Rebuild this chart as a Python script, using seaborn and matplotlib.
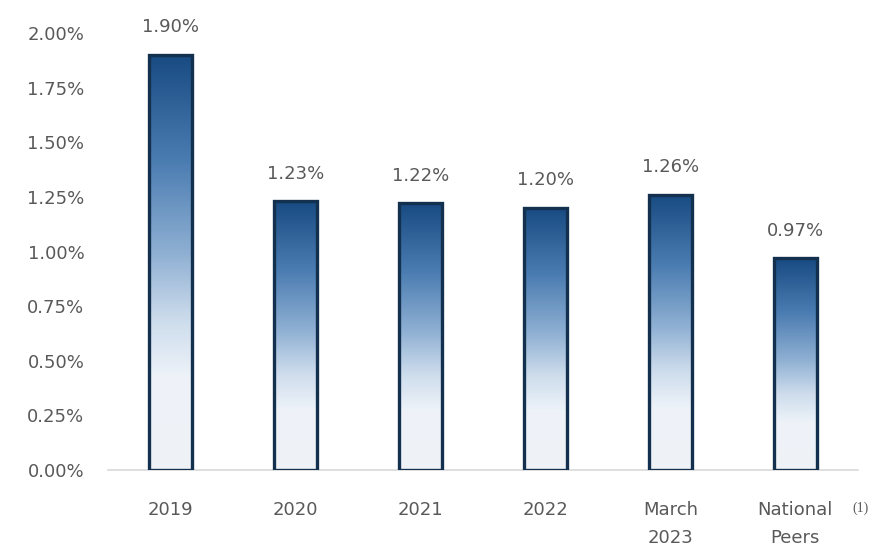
import numpy as np
import pandas as pd
import matplotlib.pyplot as plt
from matplotlib.colors import LinearSegmentedColormap
import seaborn as sns

# data
categories = ['2019', '2020', '2021', '2022', 'March\n2023', 'National\nPeers']
values = [1.90, 1.23, 1.22, 1.20, 1.26, 0.97]
value_labels = ['1.90%', '1.23%', '1.22%', '1.20%', '1.26%', '0.97%']
ytick_vals = [0.0, 0.25, 0.5, 0.75, 1.0, 1.25, 1.5, 1.75, 2.0]

df = pd.DataFrame({'category': categories, 'value': values})

sns.set_style('white')
plt.rcParams['font.family'] = ['DejaVu Sans']
text_col = '#595959'
fsize = 13

fig = plt.figure(figsize=(8.73, 5.51), dpi=100)
ax = fig.add_axes([0.1237, 0.147, 0.859, 0.793])

sns.barplot(data=df, x='category', y='value', width=0.34,
            color='white', edgecolor='#13304f', linewidth=2.4, ax=ax)

# gradient fill: blue at top fading to near white at bottom
cmap = LinearSegmentedColormap.from_list('grad', [
    (0.0, '#eef2f7'), (0.22, '#eef3f9'), (0.36, '#cddcec'),
    (0.52, '#8fb0d3'), (0.74, '#4c7db2'), (1.0, '#184b82')])
grad = np.linspace(0, 1, 256).reshape(-1, 1)
for p in ax.patches:
    x0, y0 = p.get_x(), p.get_y()
    w, h = p.get_width(), p.get_height()
    im = ax.imshow(grad, cmap=cmap, origin='lower', aspect='auto',
                   extent=[x0, x0 + w, y0, y0 + h], zorder=p.get_zorder() - 0.1)
    im.set_clip_path(p)
    p.set_facecolor('none')
    p.set_zorder(3)

for i, (v, lab) in enumerate(zip(values, value_labels)):
    ax.text(i, v + 0.085, lab, ha='center', va='bottom', fontsize=fsize, color=text_col)

ax.set_xlim(-0.5, 5.5)
ax.set_ylim(0, 2.0)
ax.set_yticks(ytick_vals)
ax.set_yticklabels([f'{t:.2f}%' for t in ytick_vals], fontsize=fsize, color=text_col)
ax.tick_params(axis='x', labelsize=fsize, colors=text_col, length=0, pad=22)
ax.tick_params(axis='y', length=0, pad=17)
for lab in ax.get_xticklabels():
    lab.set_color(text_col)
    lab.set_linespacing(1.75)
ax.set_xlabel('')
ax.set_ylabel('')

sns.despine(ax=ax, left=True)
ax.spines['bottom'].set_color('#d9d9d9')
ax.spines['bottom'].set_linewidth(1.2)

# footnote marker next to "National"
fig.text(0.986, 0.078, '(1)', fontsize=10, color=text_col,
         family=['Liberation Serif', 'DejaVu Serif'], ha='center', va='center')

fig.savefig('out.png', dpi=100)
